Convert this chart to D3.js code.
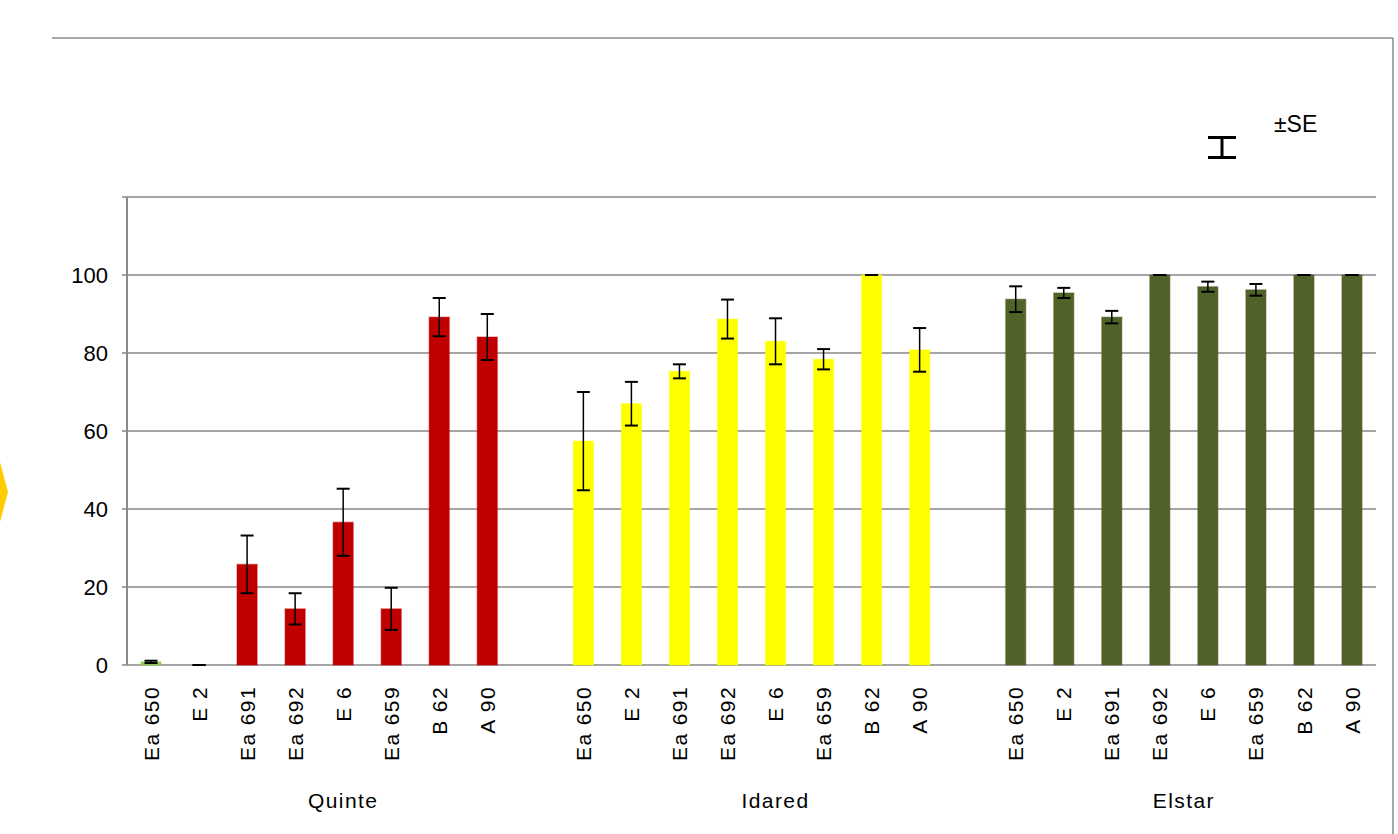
<!DOCTYPE html>
<html>
<head>
<meta charset="utf-8">
<script src="https://cdn.jsdelivr.net/npm/d3@7"></script>
<style>
  html, body { margin: 0; padding: 0; background: #fff; }
  svg { display: block; font-family: "Liberation Sans", Arial, sans-serif; }
</style>
</head>
<body>
<svg id="chart" width="1398" height="834"></svg>
<script>
// Cultivars (groups) and isolates tested on each
const cultivars = ["Quinte", "Idared", "Elstar"];
const isolates = ["Ea 650", "E 2", "Ea 691", "Ea 692", "E 6", "Ea 659", "B 62", "A 90"];

// Mean values and standard errors per cultivar, in isolate order
const quinteMean = [0.8, 0, 25.8, 14.4, 36.6, 14.4, 89.2, 84.1];
const quinteSE   = [0.3, 0, 7.4, 4.0, 8.6, 5.4, 4.9, 5.9];
const idaredMean = [57.4, 67.0, 75.3, 88.7, 83.0, 78.4, 100, 80.8];
const idaredSE   = [12.6, 5.6, 1.8, 5.0, 5.9, 2.6, 0, 5.6];
const elstarMean = [93.8, 95.4, 89.2, 100, 97.0, 96.2, 100, 100];
const elstarSE   = [3.3, 1.3, 1.6, 0, 1.3, 1.5, 0, 0];

const yTicks = [0, 20, 40, 60, 80, 100];
const yMax = 120;

const cultivarColor = { Quinte: "#C00000", Idared: "#FFFF00", Elstar: "#4F6228" };
const firstQuinteColor = "#92D050";

const means = [quinteMean, idaredMean, elstarMean];
const ses = [quinteSE, idaredSE, elstarSE];

// Build category slots: each cultivar's isolates followed by a blank spacer slot (except the last)
const slots = [];
const bars = [];
cultivars.forEach((c, gi) => {
  isolates.forEach((iso, i) => {
    const key = c + "|" + iso;
    slots.push(key);
    bars.push({
      key, cultivar: c, isolate: iso,
      value: means[gi][i], se: ses[gi][i],
      color: (gi === 0 && i === 0) ? firstQuinteColor : cultivarColor[c]
    });
  });
  if (gi < cultivars.length - 1) slots.push(c + "|gap");
});

const svg = d3.select("#chart");

const plotLeft = 127, plotRight = 1376, plotTop = 197, plotBottom = 665;

const x = d3.scaleBand().domain(slots).range([plotLeft, plotRight])
  .paddingInner(0.58).paddingOuter(0.29);
const y = d3.scaleLinear().domain([0, yMax]).range([plotBottom, plotTop]);

// Outer chart frame (top and right edges)
svg.append("line").attr("x1", 52).attr("x2", 1393).attr("y1", 38).attr("y2", 38)
  .attr("stroke", "#8a8a8a").attr("stroke-width", 1.5);
svg.append("line").attr("x1", 1393).attr("x2", 1393).attr("y1", 38).attr("y2", 834)
  .attr("stroke", "#8a8a8a").attr("stroke-width", 1.5);

// Small gold marker on the left edge
svg.append("polygon").attr("points", "0,462 8,492 0,522").attr("fill", "#FFCC00");

// Horizontal gridlines (including top line at the axis maximum)
const gridVals = yTicks.concat([yMax]);
svg.append("g").selectAll("line").data(gridVals).join("line")
  .attr("x1", plotLeft - 5).attr("x2", plotRight)
  .attr("y1", d => y(d)).attr("y2", d => y(d))
  .attr("stroke", "#878787").attr("stroke-width", 1.3);

// Y axis line
svg.append("line").attr("x1", plotLeft).attr("x2", plotLeft)
  .attr("y1", y(yMax)).attr("y2", y(0))
  .attr("stroke", "#8a8a8a").attr("stroke-width", 2);

// Y tick labels
svg.append("g").selectAll("text").data(yTicks).join("text")
  .attr("x", 108).attr("y", d => y(d)).attr("dy", "0.36em")
  .attr("text-anchor", "end").attr("font-size", 22).attr("fill", "#000")
  .text(d => d);

// Bars
const bw = x.bandwidth();
svg.append("g").selectAll("rect").data(bars).join("rect")
  .attr("x", d => x(d.key)).attr("width", bw)
  .attr("y", d => y(d.value)).attr("height", d => y(0) - y(d.value))
  .attr("fill", d => d.color)
  .attr("stroke", d => d.color).attr("stroke-opacity", 0.35).attr("stroke-width", 1.5);

// Error bars (±SE)
const capHalf = 6.5;
const eb = svg.append("g").attr("stroke", "#000").attr("fill", "none");
bars.forEach(d => {
  const cx = x(d.key) + bw / 2;
  const y1 = y(d.value + d.se), y2 = y(d.value - d.se);
  eb.append("line").attr("x1", cx).attr("x2", cx).attr("y1", y1).attr("y2", y2).attr("stroke-width", 1.5);
  eb.append("line").attr("x1", cx - capHalf).attr("x2", cx + capHalf).attr("y1", y1).attr("y2", y1).attr("stroke-width", 2);
  eb.append("line").attr("x1", cx - capHalf).attr("x2", cx + capHalf).attr("y1", y2).attr("y2", y2).attr("stroke-width", 2);
});

// Isolate labels, rotated
svg.append("g").selectAll("text").data(bars).join("text")
  .attr("transform", d => `translate(${x(d.key) + bw / 2},686) rotate(-90)`)
  .attr("dy", "0.36em").attr("text-anchor", "end")
  .attr("font-size", 21).attr("letter-spacing", 1.4).attr("fill", "#000")
  .text(d => d.isolate);

// Cultivar labels, centred on each group's slots (spacer included)
cultivars.forEach(c => {
  const groupSlots = slots.filter(s => s.startsWith(c + "|"));
  const cx = d3.mean(groupSlots, s => x(s) + bw / 2);
  svg.append("text").attr("x", cx).attr("y", 808)
    .attr("text-anchor", "middle").attr("font-size", 21).attr("letter-spacing", 1.4)
    .attr("fill", "#000").text(c);
});

// Legend: error-bar glyph and label
const lg = svg.append("g").attr("stroke", "#000").attr("stroke-width", 3);
lg.append("line").attr("x1", 1208).attr("x2", 1236).attr("y1", 137.5).attr("y2", 137.5);
lg.append("line").attr("x1", 1208).attr("x2", 1236).attr("y1", 157.5).attr("y2", 157.5);
lg.append("line").attr("x1", 1222).attr("x2", 1222).attr("y1", 137.5).attr("y2", 157.5);
svg.append("text").attr("x", 1274).attr("y", 132)
  .attr("font-size", 23).attr("fill", "#000").text("±SE");
</script>
</body>
</html>
